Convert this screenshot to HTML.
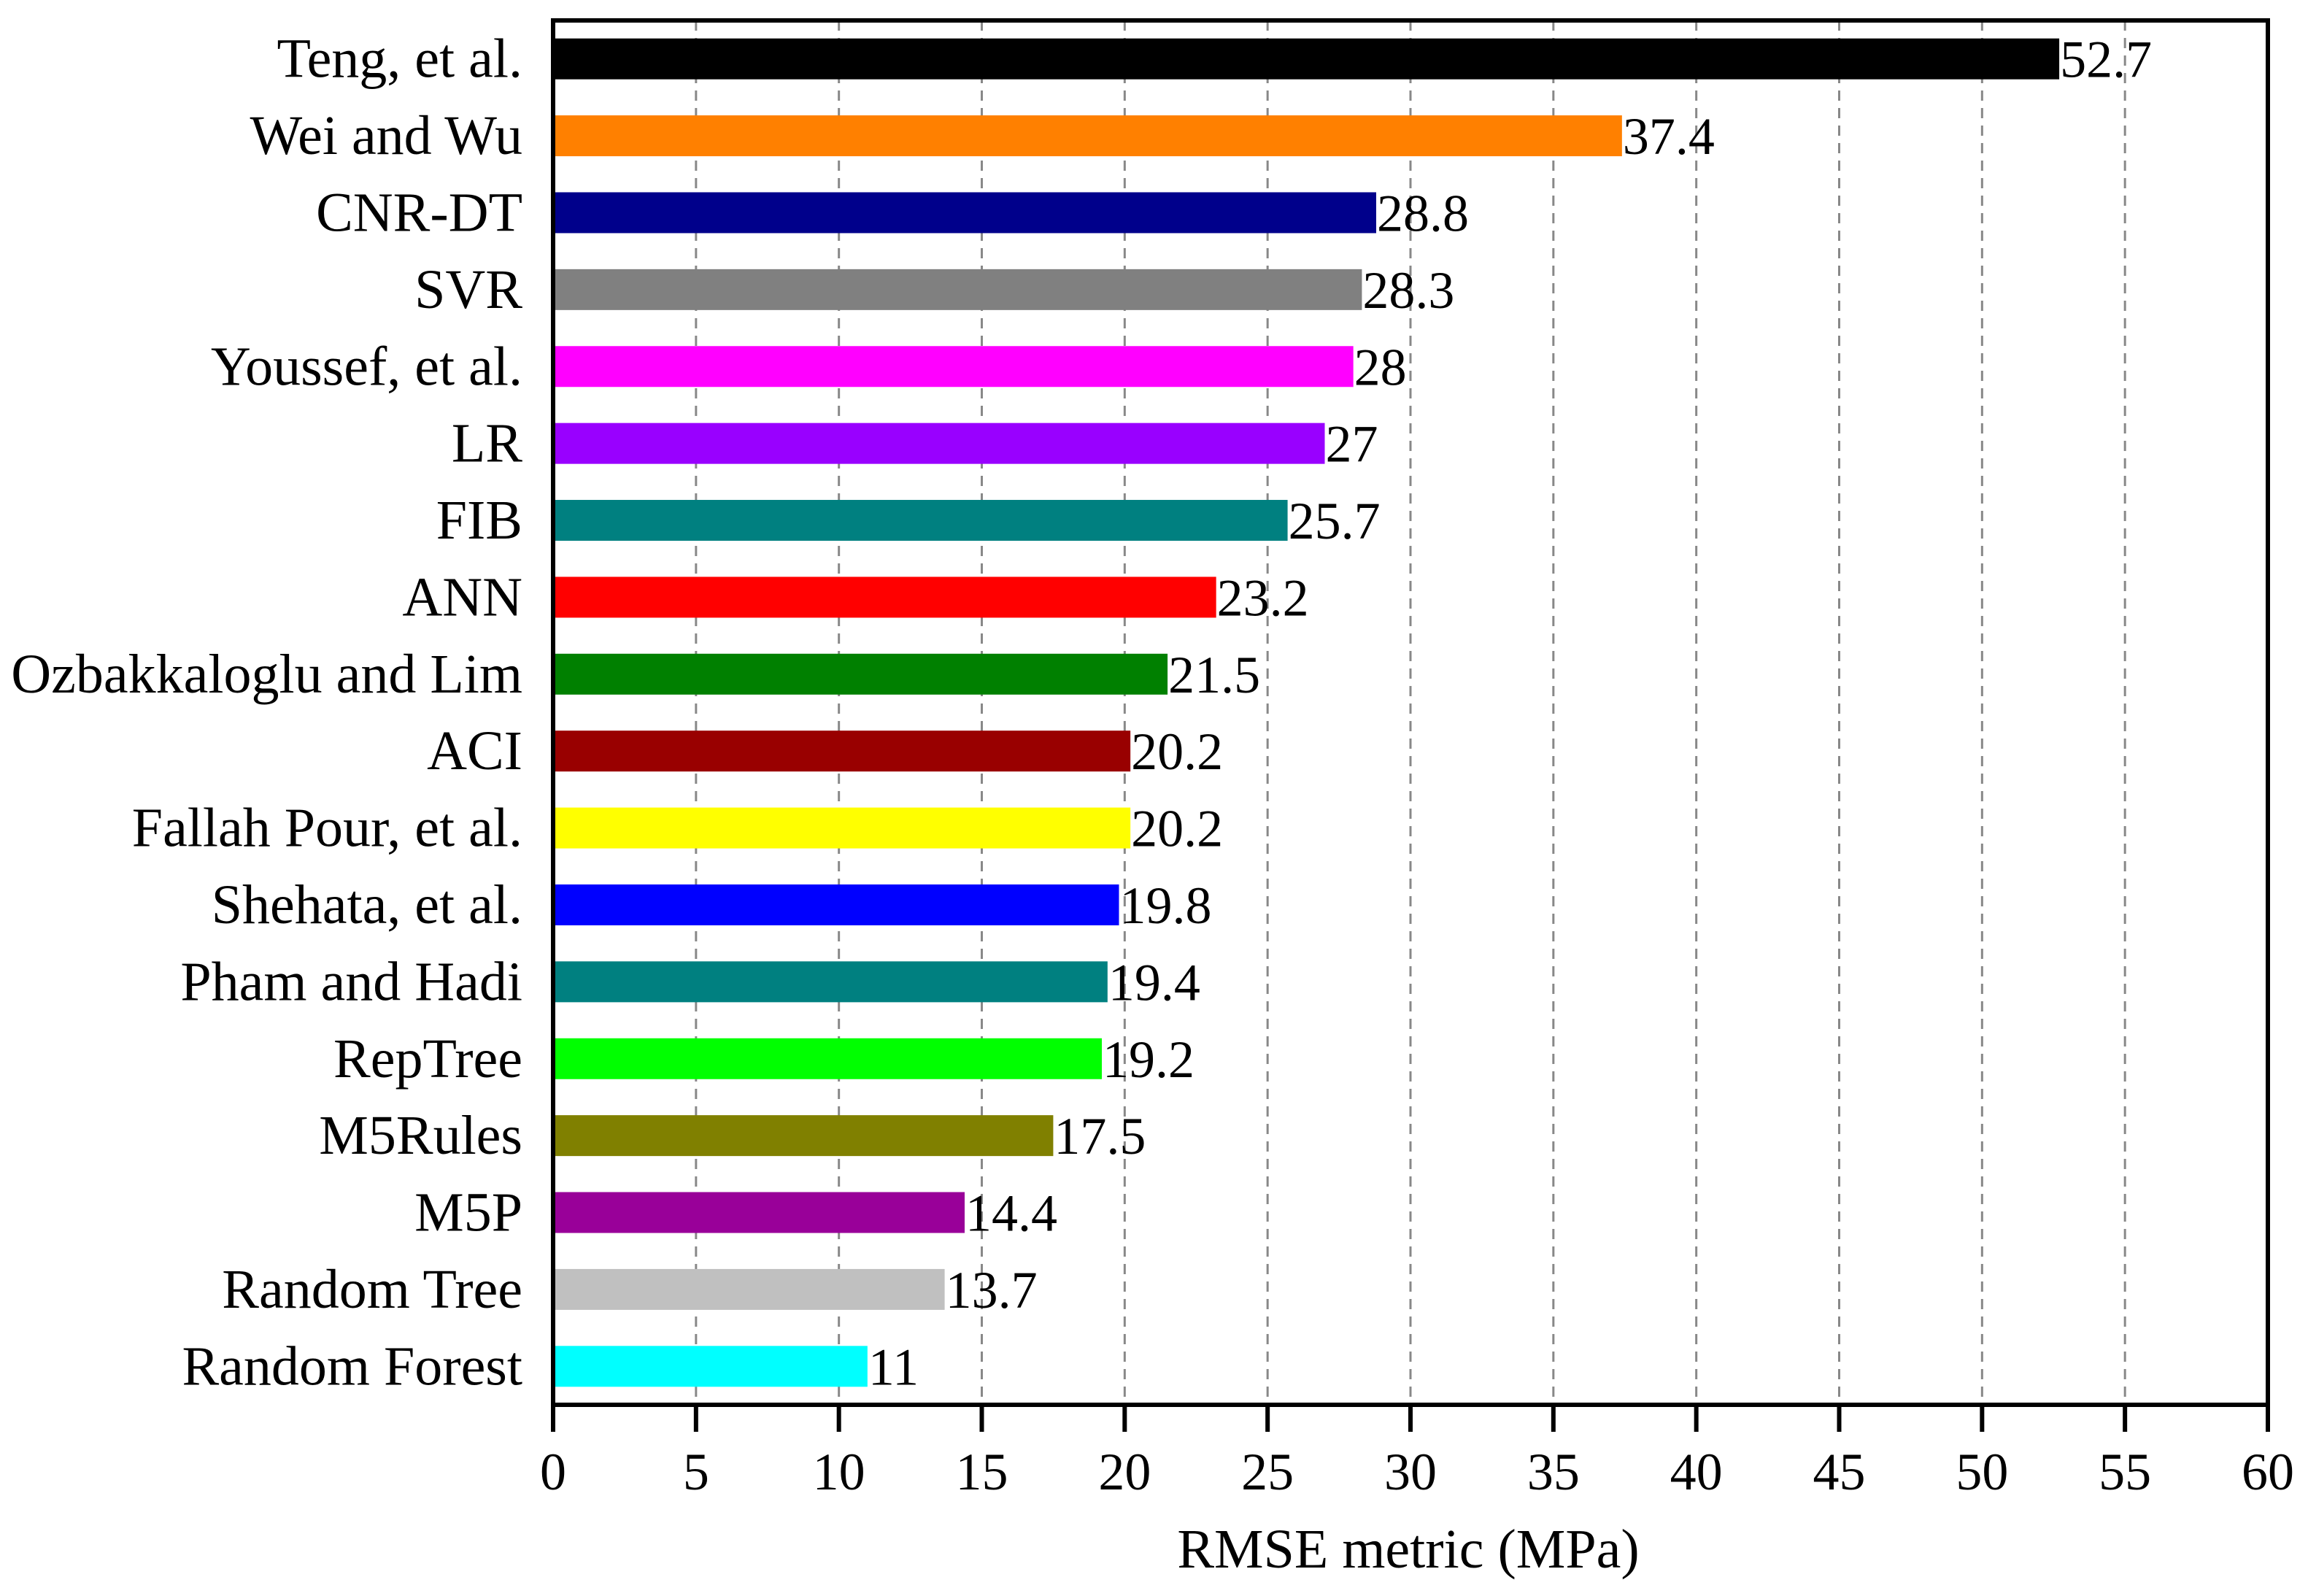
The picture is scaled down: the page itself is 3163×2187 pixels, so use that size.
<!DOCTYPE html>
<html><head><meta charset="utf-8"><style>
html,body{margin:0;padding:0;background:#fff;}
svg{display:block;font-family:"Liberation Serif",serif;}
</style></head><body>
<svg id="chart" width="3163" height="2187" viewBox="0 0 3163 2187" xmlns="http://www.w3.org/2000/svg">
<g id="grid"></g>
<g id="bars"></g>
<g id="vals"></g>
<g id="ylabels"></g>
<g id="xticks"></g>
<rect x="758" y="28" width="2350" height="1897" fill="none" stroke="#000" stroke-width="6"/>
<text x="1930" y="2148" font-size="76" text-anchor="middle">RMSE metric (MPa)</text>
</svg>
<script>
const categories = ["Teng, et al.","Wei and Wu","CNR-DT","SVR","Youssef, et al.","LR","FIB","ANN","Ozbakkaloglu and Lim","ACI","Fallah Pour, et al.","Shehata, et al.","Pham and Hadi","RepTree","M5Rules","M5P","Random Tree","Random Forest"];
const values = [52.7,37.4,28.8,28.3,28,27,25.7,23.2,21.5,20.2,20.2,19.8,19.4,19.2,17.5,14.4,13.7,11];
const valueLabels = ["52.7","37.4","28.8","28.3","28","27","25.7","23.2","21.5","20.2","20.2","19.8","19.4","19.2","17.5","14.4","13.7","11"];
const colors = ["#000000","#FF8000","#00008B","#808080","#FF00FF","#9900FF","#008080","#FF0000","#008000","#990000","#FFFF00","#0000FF","#008080","#00FF00","#808000","#990099","#C0C0C0","#00FFFF"];
const xTicks = [0,5,10,15,20,25,30,35,40,45,50,55,60];

const NS = "http://www.w3.org/2000/svg";
const X0 = 758, X1 = 3108, XMAX = 60, Y0 = 28, Y1 = 1925;
const band = (Y1 - Y0) / categories.length;
const barH = 56;
function xScale(v){ return X0 + (X1 - X0) * v / XMAX; }
function yCenter(i){ return Y0 + band * (i + 0.5); }
function mk(tag, attrs, parent){
  const e = document.createElementNS(NS, tag);
  for (const k in attrs) e.setAttribute(k, attrs[k]);
  parent.appendChild(e);
  return e;
}
const grid = document.getElementById('grid');
const bars = document.getElementById('bars');
const vals = document.getElementById('vals');
const ylabels = document.getElementById('ylabels');
const xt = document.getElementById('xticks');

xTicks.forEach(t => {
  const x = xScale(t);
  if (t > 0 && t < XMAX) {
    const g = mk('line', {x1:x, y1:Y0, x2:x, y2:Y1, stroke:'#888', 'stroke-width':3, 'stroke-dasharray':'14 10'}, grid);
    
    
  }
  const tk = mk('line', {x1:x, y1:Y1, x2:x, y2:Y1 + 37, stroke:'#000', 'stroke-width':6}, xt);
  
  
  const lb = mk('text', {x:x, y:2041, 'font-size':72, 'text-anchor':'middle'}, xt);
  lb.textContent = t;
  
  
});

categories.forEach((c, i) => {
  const cy = yCenter(i);
  const w = xScale(values[i]) - X0;
  const r = mk('rect', {x:X0, y:cy - barH/2, width:w, height:barH, fill:colors[i]}, bars);
  
  
  const v = mk('text', {x:xScale(values[i]) + 1, y:cy + 25, 'font-size':72}, vals);
  v.textContent = valueLabels[i];
  
  
  const l = mk('text', {x:716, y:cy + 25, 'font-size':76, 'text-anchor':'end'}, ylabels);
  l.textContent = c;
  
  
});
</script>
</body></html>
